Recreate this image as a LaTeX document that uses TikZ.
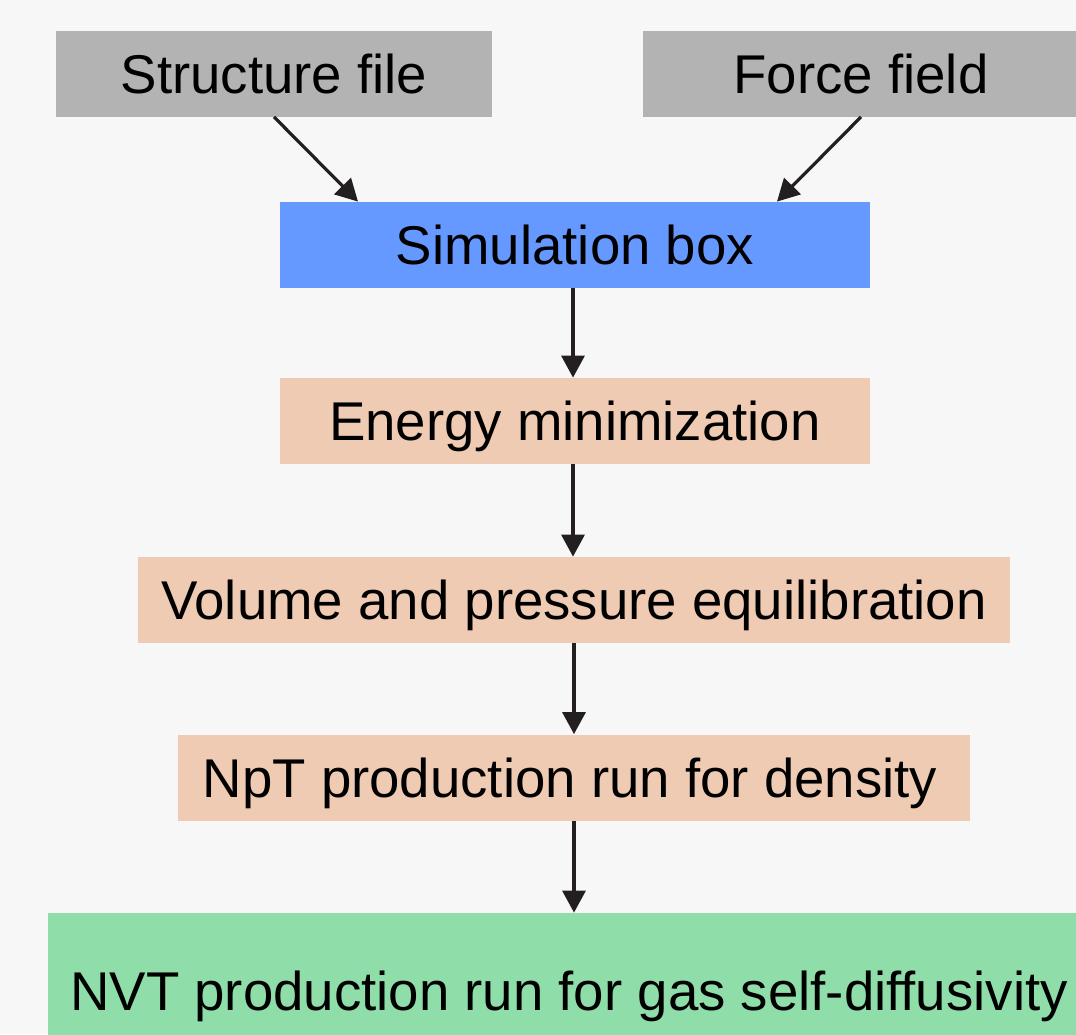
\documentclass[tikz,border=0pt]{standalone}
\usepackage{fontspec}
\setmainfont{Liberation Sans}
\usetikzlibrary{arrows.meta}
\definecolor{bg}{HTML}{F7F7F7}
\definecolor{grayfill}{HTML}{B3B3B3}
\definecolor{bluefill}{HTML}{6699FF}
\definecolor{peachfill}{HTML}{F0CBB3}
\definecolor{greenfill}{HTML}{8FDDA8}
\definecolor{arrowcol}{HTML}{231F20}
\begin{document}
\begin{tikzpicture}[x=0.5pt,y=-0.5pt,
  stepbox/.style={rectangle, inner sep=0pt, minimum height=43pt, text height=19.55pt, text depth=0pt, font=\fontsize{27.3pt}{32pt}\selectfont, text=black},
  flow/.style={draw=arrowcol, line width=1.6pt, -{Triangle[length=11pt,width=11.5pt]}}]
\path[fill=bg, use as bounding box] (0,0) rectangle (1076,1034);
\begin{scope}
\clip (0,0) rectangle (1076,1034);
\node[stepbox, fill=grayfill, minimum width=218pt] (sf) at (274,73.5) {Structure file};
\node[stepbox, fill=grayfill, minimum width=218pt] (ff) at (861,73.5) {Force field};
\node[stepbox, fill=bluefill, minimum width=295pt] (sim) at (575,245) {Simulation box};
\node[stepbox, fill=peachfill, minimum width=295pt] (em) at (575,421) {Energy minimization};
\node[stepbox, fill=peachfill, minimum width=436pt] (vp) at (574,600) {Volume and pressure equilibration};
\node[stepbox, fill=peachfill, minimum width=396pt] (npt) at (574,777.5) {NpT production run for density\hspace*{4pt}};
\node[stepbox, fill=greenfill, minimum width=521pt, minimum height=78pt] (nvt) at (569,991) {NVT production run for gas self-diffusivity};
\end{scope}
\draw[flow] (sf.south) -- ([xshift=-108.5pt]sim.north);
\draw[flow] (ff.south) -- ([xshift=101pt]sim.north);
\draw[flow] ([xshift=-1pt]sim.south) -- ([xshift=-1pt]em.north);
\draw[flow] ([xshift=-1pt]em.south) -- ([xshift=-0.5pt]vp.north);
\draw[flow] (vp.south) -- (npt.north);
\draw[flow] (npt.south) -- (npt.south |- nvt.north);
\end{tikzpicture}
\end{document}
